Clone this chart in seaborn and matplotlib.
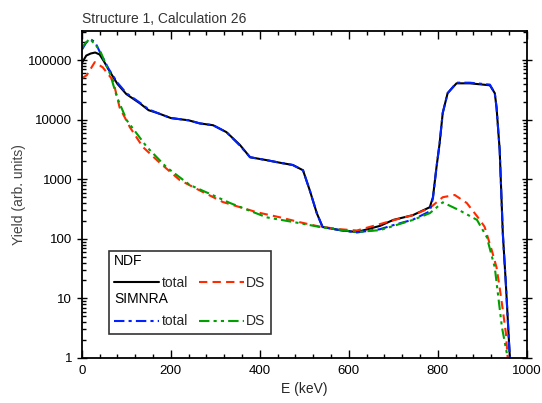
import numpy as np
import matplotlib
matplotlib.use("Agg")
import matplotlib.pyplot as plt
import seaborn as sns
from matplotlib.lines import Line2D
from matplotlib.text import Text
from matplotlib.ticker import MultipleLocator, LogLocator, NullFormatter

# NDF total (keV, yield)
ndf_tot_E = [0, 10, 20, 30, 40, 50, 60, 80, 100, 130, 150, 170, 200, 240, 265, 295, 325,
             355, 378, 415, 445, 474, 497, 512, 528, 541, 580, 618, 670, 700, 744, 782,
             789, 797, 804, 811, 822, 842, 872, 917, 928, 932, 939, 946, 953, 960, 962]
ndf_tot_Y = [90000, 120000, 130000, 135000, 125000, 95000, 70000, 40000, 27000, 19000, 14500,
             13000, 10700, 9800, 8700, 8100, 6200, 3800, 2350, 2100, 1900, 1740, 1420, 660,
             270, 158, 140, 130, 165, 208, 250, 340, 500, 1600, 4000, 13000, 28000, 41000,
             41000, 38000, 28000, 16000, 3100, 125, 17, 1.8, 1]

# NDF DS
ndf_ds_E = [0, 11, 29, 47, 70, 85, 108, 137, 175, 220, 265, 317, 393, 445, 490, 535, 580,
            618, 677, 700, 744, 782, 811, 838, 865, 890, 905, 921, 932, 939, 946, 953, 957]
ndf_ds_Y = [50000, 56000, 93000, 76000, 46000, 16000, 7500, 3500, 1900, 970, 650, 415, 280,
            230, 190, 160, 145, 138, 183, 205, 250, 330, 500, 545, 400, 230, 160, 65, 33,
            15, 6.4, 2.6, 1]

# SIMNRA total
sim_tot_E = [0, 10, 20, 30, 40, 60, 80, 100, 130, 150, 170, 200, 240, 265, 295, 325, 355,
             378, 415, 445, 474, 497, 512, 528, 541, 580, 618, 670, 700, 744, 782, 789,
             797, 804, 811, 822, 842, 872, 917, 928, 932, 939, 946, 953, 960, 962]
sim_tot_Y = [150000, 200000, 225000, 200000, 140000, 72000, 42000, 28000, 19500, 15000,
             13000, 10700, 9800, 8700, 8100, 6200, 3700, 2350, 2100, 1900, 1740, 1420, 660,
             270, 158, 140, 128, 145, 170, 210, 290, 480, 1600, 4000, 13000, 28000, 42000,
             42000, 39000, 28000, 16000, 3100, 125, 17, 1.8, 1]

# SIMNRA DS
sim_ds_E = [0, 7, 18, 40, 63, 79, 101, 146, 190, 243, 290, 333, 415, 490, 535, 618, 670,
            744, 782, 811, 849, 888, 910, 928, 935, 944, 955]
sim_ds_Y = [160000, 190000, 230000, 150000, 60000, 24000, 9800, 3500, 1600, 800, 560, 400,
            230, 183, 158, 130, 140, 208, 270, 410, 300, 208, 107, 33, 12, 3.3, 1.2]

sns.set_theme(style="ticks")
plt.rcParams["font.family"] = ["Liberation Sans", "DejaVu Sans"]

fig = plt.figure(figsize=(5.42, 4.03), dpi=100)
ax = fig.add_axes([0.151, 0.112, 0.821, 0.811])

lw = 1.5
sns.lineplot(x=ndf_tot_E, y=ndf_tot_Y, ax=ax, color="black", lw=lw, sort=False)
sns.lineplot(x=ndf_ds_E, y=ndf_ds_Y, ax=ax, color="#ff2a00", lw=lw, sort=False,
             linestyle=(0, (4, 2.5)))
sns.lineplot(x=sim_tot_E, y=sim_tot_Y, ax=ax, color="#0022ff", lw=lw, sort=False,
             linestyle=(0, (5, 2, 1.5, 2)))
sns.lineplot(x=sim_ds_E, y=sim_ds_Y, ax=ax, color="#00a000", lw=lw, sort=False,
             linestyle=(0, (5, 2, 1.5, 2, 1.5, 2)))

ax.set_yscale("log")
ax.set_xlim(0, 1000)
ax.set_ylim(1, 3.1e5)
ax.xaxis.set_major_locator(MultipleLocator(200))
ax.xaxis.set_minor_locator(MultipleLocator(40))
ax.yaxis.set_minor_locator(LogLocator(base=10, subs=np.arange(2, 10), numticks=20))
ax.yaxis.set_minor_formatter(NullFormatter())
ax.set_yticks([1, 10, 100, 1000, 10000, 100000])
ax.set_yticklabels(["1", "10", "100", "1000", "10000", "100000"])

ax.tick_params(axis="both", which="both", top=True, right=True, direction="in",
               labelsize=9.5, colors="black", width=1)
ax.tick_params(axis="y", which="major", direction="inout", length=7)
ax.tick_params(axis="x", which="major", length=6, pad=5)
ax.tick_params(which="minor", length=3)
for s in ax.spines.values():
    s.set_linewidth(1.3)
    s.set_color("black")

ax.set_xlabel("E (keV)", fontsize=10, labelpad=4)
ax.set_ylabel("Yield (arb. units)", fontsize=10, color="#444444")
ax.yaxis.set_label_coords(-0.125, 0.5)
ax.set_title("Structure 1, Calculation 26", fontsize=10, loc="left", x=0.0, pad=6,
             color="#333333")


class Header:
    def __init__(self, text):
        self.text = text


class HeaderHandler:
    def legend_artist(self, legend, orig_handle, fontsize, handlebox):
        t = Text(handlebox.xdescent, handlebox.ydescent, orig_handle.text,
                 fontsize=fontsize, va="bottom", ha="left", color="black",
                 family=["Liberation Sans", "DejaVu Sans"])
        handlebox.add_artist(t)
        return t


blank = Line2D([], [], color="none")
handles = [Header("NDF"), ax.lines[0], Header("SIMNRA"), ax.lines[2],
           blank, ax.lines[1], blank, ax.lines[3]]
labels = ["", "total", "", "total", "", "DS", "", "DS"]
leg = ax.legend(handles, labels, ncol=2, loc="lower left",
                bbox_to_anchor=(0.045, 0.052), fontsize=10, frameon=True, fancybox=False,
                edgecolor="black", handlelength=3.2, handletextpad=0.2,
                columnspacing=0.8, labelspacing=0.38, borderpad=0.4,
                handler_map={Header: HeaderHandler()})
leg.get_frame().set_linewidth(1.2)

fig.savefig("out.png", dpi=100)
